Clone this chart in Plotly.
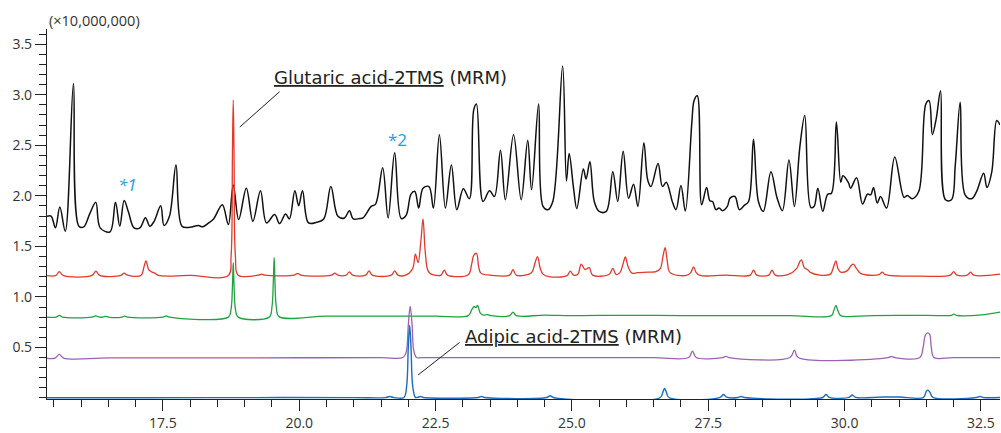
import plotly.graph_objects as go

# Retention time (min) / intensity (x10,000,000)
tic_x = [15.375, 15.45, 15.53, 15.61, 15.71, 15.86, 15.96, 16.05, 16.16, 16.27, 16.35, 16.53, 16.63, 16.71,
         16.79, 16.87, 16.97, 17.08, 17.18, 17.26, 17.34, 17.46, 17.52, 17.62, 17.74, 17.85,
         18.00, 18.15, 18.23, 18.34, 18.43, 18.59, 18.70, 18.79, 18.89, 19.03, 19.15, 19.29, 19.40,
         19.55, 19.64, 19.75, 19.82, 19.92, 19.99, 20.06, 20.17, 20.32, 20.45, 20.58, 20.71, 20.83,
         20.92, 20.99, 21.11, 21.17, 21.32, 21.40, 21.53, 21.63, 21.75, 21.87, 21.96, 22.05, 22.12,
         22.19, 22.27, 22.38, 22.46, 22.57, 22.68, 22.79, 22.89, 23.01, 23.12, 23.20, 23.25, 23.37,
         23.49, 23.58, 23.69, 23.78, 23.93, 24.07, 24.19, 24.26, 24.39, 24.47, 24.56, 24.65, 24.83,
         24.90, 24.95, 25.03, 25.09, 25.21, 25.26, 25.33, 25.41, 25.50, 25.63, 25.75, 25.84, 25.94,
         26.04, 26.13, 26.21, 26.32, 26.39, 26.45, 26.58, 26.66, 26.73, 26.85, 26.91, 27.00, 27.08,
         27.20, 27.24, 27.30, 27.38, 27.47, 27.53, 27.58, 27.64, 27.70, 27.76, 27.85, 27.90, 27.99,
         28.07, 28.16, 28.24, 28.33, 28.42, 28.51, 28.65, 28.76, 28.86, 28.98, 29.08, 29.18, 29.27,
         29.38, 29.44, 29.51, 29.60, 29.69, 29.76, 29.85, 29.93, 29.97, 30.07, 30.11, 30.22, 30.33,
         30.42, 30.48, 30.53, 30.60, 30.66, 30.77, 30.92, 31.09, 31.15, 31.24, 31.36, 31.49, 31.55,
         31.61, 31.68, 31.76, 31.85, 31.96, 32.03, 32.12, 32.21, 32.33, 32.42, 32.55, 32.61, 32.70,
         32.79, 32.85]
tic_y = [1.797, 1.80, 1.683, 1.889, 1.650, 3.111, 1.699, 1.693, 1.824, 1.935, 1.683, 1.644, 1.935, 1.699,
         1.954, 1.837, 1.683, 1.683, 1.784, 1.699, 1.748, 1.902, 1.706, 1.797, 2.304, 1.699,
         1.689, 1.706, 1.693, 1.732, 1.771, 1.912, 1.716, 2.108, 1.765, 2.075, 1.748, 2.049, 1.732,
         1.814, 1.725, 1.820, 1.771, 2.049, 1.902, 2.049, 1.732, 1.738, 1.771, 2.091, 1.797, 1.781,
         1.853, 1.771, 1.775, 1.781, 1.895, 1.918, 2.278, 1.781, 2.425, 1.775, 1.807, 2.016, 2.043,
         1.879, 2.075, 2.091, 1.879, 2.605, 1.879, 2.304, 1.863, 2.069, 1.971, 2.85, 2.908, 1.944,
         2.049, 1.993, 2.451, 1.961, 2.605, 1.961, 2.549, 2.059, 2.908, 1.895, 1.863, 1.944, 3.284,
         2.147, 2.418, 2.075, 1.873, 2.265, 2.167, 2.337, 1.944, 1.846, 1.846, 2.239, 1.944, 2.441,
         1.977, 2.114, 1.895, 2.526, 2.157, 2.091, 2.320, 2.091, 2.134, 1.928, 1.863, 2.101, 1.850,
         2.729, 2.941, 2.990, 1.912, 2.082, 1.951, 1.944, 1.863, 1.879, 1.853, 1.895, 1.977, 1.993,
         1.863, 1.905, 1.944, 2.559, 1.944, 1.846, 2.239, 1.984, 1.853, 2.353, 1.895, 2.484, 2.794,
         1.886, 1.895, 2.075, 1.846, 2.016, 2.026, 2.729, 2.134, 2.199, 2.131, 2.075, 2.179, 1.918,
         2.016, 2.010, 2.082, 1.928, 1.993, 1.879, 2.385, 1.984, 2.003, 1.971, 2.042, 2.908, 2.941,
         2.605, 2.761, 3.039, 1.961, 1.961, 2.304, 2.925, 2.010, 1.971, 2.042, 2.222, 2.082, 2.239,
         2.745, 2.70]

glutaric_x = [15.375, 15.54, 15.60, 15.67, 16.20, 16.27, 16.34, 16.73, 16.79, 16.85, 17.10, 17.15, 17.19, 17.24,
              17.30, 17.35, 17.42, 18.00, 18.70, 18.75, 18.775, 18.79, 18.805, 18.83, 18.88, 19.25, 19.31,
              19.37, 19.91, 19.97, 20.03, 20.59, 20.65, 20.71, 20.86, 20.92, 20.98, 21.22, 21.28, 21.34,
              21.69, 21.75, 21.81, 21.95, 22.08, 22.13, 22.18, 22.23, 22.27, 22.31, 22.36, 22.42, 22.60,
              22.66, 22.72, 23.10, 23.16, 23.20, 23.25, 23.29, 23.33, 23.50, 23.86, 23.92, 23.98, 24.26,
              24.32, 24.37, 24.42, 24.47, 24.58, 24.91, 24.97, 25.03, 25.11, 25.17, 25.24, 25.28, 25.32,
              25.38, 25.68, 25.75, 25.81, 25.88, 25.94, 25.98, 26.03, 26.10, 26.20, 26.40, 26.54, 26.62,
              26.67, 26.71, 26.75, 26.80, 27.10, 27.18, 27.23, 27.28, 27.35, 27.82, 28.27, 28.33, 28.39,
              28.61, 28.67, 28.73, 28.96, 29.12, 29.18, 29.21, 29.26, 29.32, 29.38, 29.55, 29.74, 29.80,
              29.84, 29.88, 29.93, 30.05, 30.12, 30.16, 30.22, 30.30, 30.63, 30.69, 30.75, 31.40, 31.94,
              32.00, 32.06, 32.25, 32.31, 32.37, 32.85]
glutaric_y = [1.210, 1.212, 1.25, 1.212, 1.212, 1.255, 1.212, 1.212, 1.235, 1.215, 1.212, 1.29, 1.356, 1.27,
              1.245, 1.235, 1.212, 1.212, 1.212, 1.40, 2.40, 2.948, 2.40, 1.40, 1.215, 1.215, 1.225,
              1.215, 1.215, 1.232, 1.215, 1.215, 1.235, 1.215, 1.215, 1.248, 1.215, 1.215, 1.258, 1.215,
              1.215, 1.258, 1.215, 1.215, 1.28, 1.422, 1.340, 1.55, 1.771, 1.45, 1.26, 1.225, 1.215,
              1.265, 1.215, 1.22, 1.32, 1.41, 1.431, 1.30, 1.235, 1.215, 1.215, 1.27, 1.215, 1.24,
              1.33, 1.399, 1.28, 1.225, 1.20, 1.21, 1.255, 1.215, 1.225, 1.324, 1.27, 1.28, 1.29,
              1.215, 1.222, 1.281, 1.222, 1.24, 1.33, 1.395, 1.30, 1.235, 1.240, 1.245, 1.25, 1.28,
              1.40, 1.487, 1.35, 1.24, 1.212, 1.24, 1.297, 1.24, 1.212, 1.215, 1.215, 1.265, 1.215,
              1.215, 1.265, 1.215, 1.22, 1.28, 1.35, 1.366, 1.29, 1.27, 1.24, 1.215, 1.225, 1.30,
              1.356, 1.28, 1.245, 1.26, 1.31, 1.324, 1.28, 1.23, 1.22, 1.245, 1.22, 1.205, 1.215,
              1.25, 1.215, 1.215, 1.245, 1.215, 1.225]

green_x = [15.375, 15.54, 15.60, 15.66, 16.20, 16.27, 16.34, 16.40, 16.45, 16.50, 16.75, 16.80, 16.85, 17.50,
           17.56, 17.62, 18.70, 18.75, 18.775, 18.79, 18.805, 18.83, 18.88, 19.45, 19.50, 19.525, 19.54,
           19.555, 19.58, 19.63, 20.5, 21.5, 22.5, 23.10, 23.17, 23.21, 23.24, 23.27, 23.32, 23.38, 23.45,
           23.52, 23.86, 23.92, 23.98, 24.5, 25.0, 26.0, 27.0, 28.0, 29.0, 29.76, 29.80, 29.84, 29.88,
           29.93, 30.5, 31.5, 31.96, 32.0, 32.05, 32.5, 32.85]
green_y = [0.80, 0.80, 0.817, 0.80, 0.80, 0.812, 0.80, 0.80, 0.808, 0.80, 0.80, 0.81, 0.80, 0.80,
           0.812, 0.80, 0.80, 0.88, 1.10, 1.34, 1.10, 0.88, 0.80, 0.80, 0.90, 1.15, 1.39,
           1.15, 0.90, 0.805, 0.81, 0.81, 0.81, 0.815, 0.88, 0.905, 0.895, 0.915, 0.84, 0.82, 0.825,
           0.815, 0.815, 0.85, 0.815, 0.82, 0.815, 0.818, 0.815, 0.815, 0.815, 0.815, 0.86, 0.915, 0.86,
           0.815, 0.815, 0.818, 0.818, 0.83, 0.818, 0.822, 0.85]

purple_x = [15.375, 15.52, 15.60, 15.68, 16.5, 18.0, 20.0, 21.5, 21.90, 21.96, 22.00, 22.035, 22.07, 22.10,
            22.15, 22.25, 23.5, 25.0, 26.5, 27.14, 27.21, 27.28, 27.76, 27.82, 27.88, 29.00, 29.08, 29.15,
            30.80, 30.86, 30.92, 31.38, 31.44, 31.48, 31.52, 31.56, 31.59, 31.64, 32.0, 32.85]
purple_y = [0.392, 0.394, 0.431, 0.395, 0.396, 0.397, 0.398, 0.399, 0.40, 0.45, 0.72, 0.908, 0.72, 0.47,
            0.40, 0.40, 0.40, 0.40, 0.40, 0.40, 0.464, 0.40, 0.40, 0.412, 0.40, 0.40, 0.474, 0.40,
            0.40, 0.41, 0.40, 0.40, 0.50, 0.62, 0.644, 0.63, 0.50, 0.40, 0.40, 0.40]

adipic_x = [15.375, 17.0, 19.0, 21.0, 21.58, 21.66, 21.74, 21.92, 21.97, 22.00, 22.025, 22.05, 22.08, 22.13,
            22.17, 22.22, 22.28, 23.28, 23.34, 23.40, 24.54, 24.60, 24.66, 26.62, 26.67, 26.70, 26.73,
            26.78, 27.72, 27.78, 27.84, 28.05, 28.10, 28.16, 29.60, 29.66, 29.72, 30.08, 30.14, 30.20,
            30.70, 31.0, 31.45, 31.50, 31.53, 31.57, 31.62, 32.42, 32.48, 32.54, 32.85]
adipic_y = [0.003, 0.003, 0.004, 0.004, 0.004, 0.014, 0.004, 0.005, 0.12, 0.50, 0.72, 0.50, 0.12, 0.006,
            0.006, 0.014, 0.005, 0.005, 0.014, 0.005, 0.005, 0.022, 0.005, 0.005, 0.06, 0.095, 0.06,
            0.005, 0.006, 0.035, 0.008, 0.005, 0.014, 0.005, 0.005, 0.035, 0.006, 0.006, 0.030, 0.006,
            0.010, 0.010, 0.006, 0.07, 0.078, 0.05, 0.006, 0.005, 0.014, 0.005, 0.005]

y_tickvals = [0.5, 1.0, 1.5, 2.0, 2.5, 3.0, 3.5]
y_ticktext = ["0.5", "1.0", "1.5", "2.0", "2.5", "3.0", "3.5"]

FONT = "Open Sans"
LABEL_FONT = "DejaVu Sans"
series = [
    (tic_x, tic_y, "#111111", 1.5),
    (glutaric_x, glutaric_y, "#e3392a", 1.3),
    (green_x, green_y, "#1fa33f", 1.3),
    (purple_x, purple_y, "#9b62b4", 1.3),
    (adipic_x, adipic_y, "#1a6cc4", 1.4),
]

fig = go.Figure()
for xs, ys, col, w in series:
    fig.add_trace(go.Scatter(x=xs, y=ys, mode="lines",
                             line=dict(color=col, width=w, shape="spline", smoothing=1.0),
                             hoverinfo="skip", showlegend=False))

axis_common = dict(showline=True, linecolor="#222222", linewidth=1.2, showgrid=False, zeroline=False,
                   ticks="outside", ticklen=11, tickcolor="#222222", tickwidth=1.2,
                   tickfont=dict(size=14, color="#333333", family=FONT))
fig.update_layout(
    width=1001, height=433,
    margin=dict(l=47, r=1, t=29, b=32),
    paper_bgcolor="white", plot_bgcolor="white",
    font=dict(family=FONT, size=14, color="#333333"),
    xaxis=dict(range=[15.375, 32.85], tick0=0, dtick=2.5, tickformat=".1f",
               minor=dict(dtick=0.5, tick0=0, ticks="outside", ticklen=7, tickcolor="#222222", tickwidth=1.2),
               **axis_common),
    yaxis=dict(range=[-0.01, 3.65], tickmode="array", tickvals=y_tickvals, ticktext=y_ticktext,
               minor=dict(dtick=0.1, tick0=0, ticks="outside", ticklen=7, tickcolor="#222222", tickwidth=1.2),
               **axis_common),
)

fig.add_annotation(xref="paper", yref="paper", x=0.0, y=1.024, xanchor="left", yanchor="middle",
                   text="(×10,000,000)", showarrow=False, font=dict(size=14.5, color="#333333", family=FONT))
fig.add_annotation(x=16.85, y=2.116, text="<i>*1</i>", showarrow=False,
                   font=dict(size=17, color="#1aa0e6", family=FONT))
fig.add_annotation(x=21.795, y=2.56, text="*2", showarrow=False,
                   font=dict(size=17, color="#1aa0e6", family=FONT))
fig.add_annotation(x=19.50, y=3.17, xanchor="left", yanchor="middle",
                   text="<u>Glutaric acid-2TMS</u> (MRM)", showarrow=False,
                   font=dict(size=18, color="#222222", family=LABEL_FONT))
fig.add_annotation(x=23.01, y=0.61, xanchor="left", yanchor="middle",
                   text="<u>Adipic acid-2TMS</u> (MRM)", showarrow=False,
                   font=dict(size=18, color="#222222", family=LABEL_FONT))
fig.add_shape(type="line", x0=19.64, y0=3.03, x1=18.91, y1=2.68, line=dict(color="#222222", width=1))
fig.add_shape(type="line", x0=22.94, y0=0.549, x1=22.18, y1=0.228, line=dict(color="#222222", width=1))

fig.write_html("out.html")
